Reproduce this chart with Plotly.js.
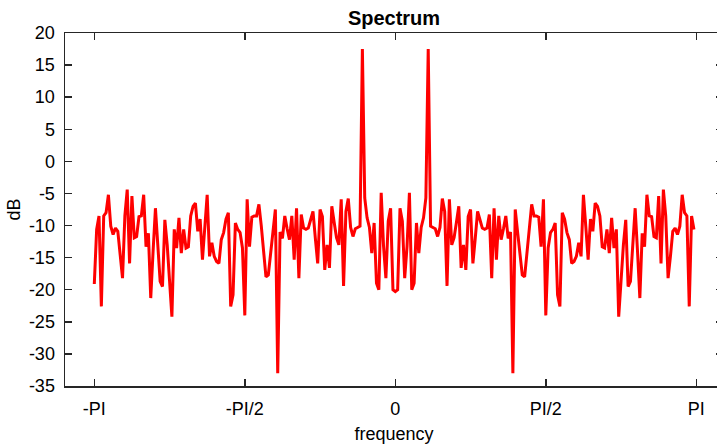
<!DOCTYPE html>
<html>
<head>
<meta charset="utf-8">
<script src="https://cdn.plot.ly/plotly-3.0.1.min.js"></script>
<style>
html, body { margin: 0; padding: 0; overflow: hidden; background: #fff; }
#chart { width: 724px; height: 448px; }
</style>
</head>
<body>
<div id="chart"></div>
<script>
// Spectrum magnitude in dB, 256 FFT bins from -PI to PI (step 2*PI/256)
var spectrumDb = [
  -19.1,
  -10.6, -8.5, -22.6, -8.5, -8, -5.2, -10.1, -11.4, -10.4, -10.9, -14.8, -18.2, -8.5, -4.4, -15.9, -5.4,
  -11.9, -11.7, -8.6, -8.5, -5.2, -13.3, -11.2, -21.3, -14, -7.3, -13, -18.7, -19.5, -9.1, -13, -17.9,
  -24.2, -10.6, -13.5, -8.8, -14.3, -10.6, -13.5, -13.3, -8.5, -7, -6.5, -10.9, -9, -15.3, -10.1, -5.2,
  -14.8, -12.7, -14.8, -15.6, -15.9, -12.2, -11.1, -9, -8, -22.6, -20.8, -9.6, -10.6, -11.1, -13.5, -24,
  -5.9, -13.3, -8.7, -8.5, -8.5, -6.7, -10, -14, -18, -17.7, -14.5, -11, -7.5, -33, -11, -12,
  -8.5, -10.5, -12.2, -8.5, -15.3, -7.3, -18.2, -8.3, -10.4, -10.6, -10.4, -9.1, -7.8, -12, -15.9, -7.5,
  -8.6, -16.9, -13, -16.6, -7, -9.5, -11.9, -13, -5.9, -19.4, -7.8, -5.8, -10.3, -11.7, -10.5, -10.3,
  -10.1, 17.5, -5.7, -8.8, -10.3, -14.3, -9.6, -19, -20, -4.9, -13.2, -18.2, -9.3, -7.3, -20,
  -20.3,
  -20, -7.3, -9.3, -18.2, -13.2, -4.9, -20, -19, -9.6, -14.3, -10.3, -8.8, -5.7, 17.5, -10.1, -10.3,
  -10.5, -11.7, -10.3, -5.8, -7.8, -19.4, -5.9, -13, -11.9, -9.5, -7, -16.6, -13, -16.9, -8.6, -7.5,
  -15.9, -12, -7.8, -9.1, -10.4, -10.6, -10.4, -8.3, -18.2, -7.3, -15.3, -8.5, -12.2, -10.5, -8.5, -12,
  -11, -33, -7.5, -11, -14.5, -17.7, -18, -14, -10, -6.7, -8.5, -8.5, -8.7, -13.3, -5.9, -24,
  -13.5, -11.1, -10.6, -9.6, -20.8, -22.6, -8, -9, -11.1, -12.2, -15.9, -15.6, -14.8, -12.7, -14.8, -5.2,
  -10.1, -15.3, -9, -10.9, -6.5, -7, -8.5, -13.3, -13.5, -10.6, -14.3, -8.8, -13.5, -10.6, -24.2, -17.9,
  -13, -9.1, -19.5, -18.7, -13, -7.3, -14, -21.3, -11.2, -13.3, -5.2, -8.5, -8.6, -11.7, -11.9, -5.4,
  -15.9, -4.4, -8.5, -18.2, -14.8, -10.9, -10.4, -11.4, -10.1, -5.2, -8, -8.5, -22.6, -8.5, -10.6
];
var binCount = 256;

var xTickLabels = ["-PI", "-PI/2", "0", "PI/2", "PI"];
var xTickMultiples = [-1, -0.5, 0, 0.5, 1];
var yTickValues = [-35, -30, -25, -20, -15, -10, -5, 0, 5, 10, 15, 20];
var yTickLabels = ["-35", "-30", "-25", "-20", "-15", "-10", "-5", "0", "5", "10", "15", "20"];

var fontFamily = "Liberation Sans, Arial, sans-serif";

var trace = {
  type: "scatter",
  mode: "lines",
  y: spectrumDb,
  x0: -Math.PI,
  dx: 2 * Math.PI / binCount,
  line: { color: "#ff0000", width: 3 },
  hoverinfo: "x+y"
};

var axisCommon = {
  showline: true,
  linecolor: "#262626",
  linewidth: 1.5,
  mirror: "ticks",
  ticks: "inside",
  ticklen: 7,
  tickwidth: 1.5,
  tickcolor: "#262626",
  showgrid: false,
  zeroline: false,
  tickfont: { family: fontFamily, size: 18, color: "#000" }
};

var layout = {
  width: 724,
  height: 448,
  margin: { l: 65, r: 1, t: 33, b: 62 },
  paper_bgcolor: "#fff",
  plot_bgcolor: "#fff",
  showlegend: false,
  title: {
    text: "<b>Spectrum</b>",
    font: { family: fontFamily, size: 20, color: "#000" },
    x: 0.5, xref: "paper", xanchor: "center",
    y: 1 - 18 / 448, yref: "container", yanchor: "middle"
  },
  xaxis: Object.assign({}, axisCommon, {
    range: [-3.4474, 3.4203],
    tickmode: "array",
    tickvals: xTickMultiples.map(function (m) { return m * Math.PI; }),
    ticktext: xTickLabels,
    ticklabelstandoff: 6,
    title: {
      text: "frequency",
      font: { family: fontFamily, size: 18, color: "#000" },
      standoff: 9
    }
  }),
  yaxis: Object.assign({}, axisCommon, {
    range: [-35, 20],
    tickmode: "array",
    tickvals: yTickValues,
    ticktext: yTickLabels,
    ticklabelstandoff: 5,
    title: {
      text: "dB",
      font: { family: fontFamily, size: 18, color: "#000" },
      standoff: 3
    }
  })
};

Plotly.newPlot("chart", [trace], layout, { displayModeBar: false, staticPlot: true });
</script>
</body>
</html>
